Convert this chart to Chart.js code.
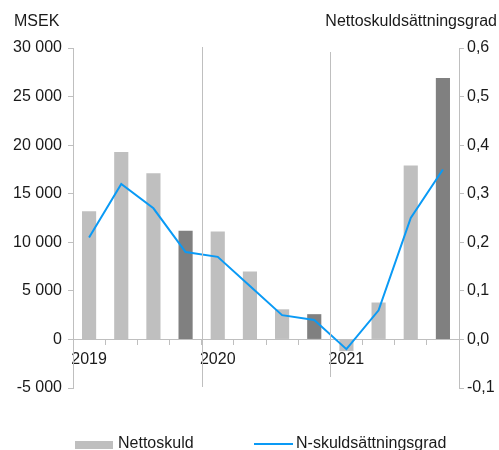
<!DOCTYPE html>
<html>
<head>
<meta charset="utf-8">
<script src="https://cdn.jsdelivr.net/npm/chart.js@4"></script>
<style>
  html, body { margin: 0; padding: 0; background: #fff; }
  #wrap { width: 499px; height: 450px; position: relative; }
</style>
</head>
<body>
<div id="wrap"><canvas id="grafico" width="499" height="450"></canvas></div>
<script>
'use strict';

// ── Dati ──────────────────────────────────────────────
const quarters = ['Q1 2019', 'Q2 2019', 'Q3 2019', 'Q4 2019',
                  'Q1 2020', 'Q2 2020', 'Q3 2020', 'Q4 2020',
                  'Q1 2021', 'Q2 2021', 'Q3 2021', 'Q4 2021'];
const yearLabels = ['2019', '2020', '2021'];
const nettoskuld = [13200, 19300, 17100, 11200, 11100, 7000, 3100, 2600, -1200, 3800, 17900, 26900];
const skuldGrad  = [0.21, 0.32, 0.27, 0.18, 0.17, 0.11, 0.05, 0.04, -0.02, 0.06, 0.25, 0.35];
const leftTitle  = 'MSEK';
const rightTitle = 'Nettoskuldsättningsgrad';

const LIGHT = '#bfbfbf';
const DARK  = '#808080';
const BLUE  = '#0a9af5';
const AXIS  = '#bfbfbf';
const TEXT  = '#1a1a1a';
const FONT  = "'Liberation Sans', Arial, sans-serif";

function fmtKr(v) {
  const s = String(Math.abs(v)).replace(/\B(?=(\d{3})+(?!\d))/g, ' ');
  return (v < 0 ? '-' : '') + s;
}
function fmtGrad(v) {
  if (Math.abs(v) < 1e-9) v = 0;
  return v.toFixed(1).replace('.', ',');
}

// titoli, separatori anno e legenda
const extras = {
  id: 'extras',
  afterDraw(chart) {
    const ctx = chart.ctx;
    const x = chart.scales.x;
    ctx.save();

    // separatori verticali tra gli anni
    ctx.strokeStyle = AXIS;
    ctx.lineWidth = 1;
    const seps = [[3, 47, 387], [7, 52, 377]];
    seps.forEach(([i, y0, y1]) => {
      const px = Math.round((x.getPixelForValue(i) + x.getPixelForValue(i + 1)) / 2) + 0.5;
      ctx.beginPath();
      ctx.moveTo(px, y0);
      ctx.lineTo(px, y1);
      ctx.stroke();
    });

    // titoli assi
    ctx.fillStyle = TEXT;
    ctx.font = '16px ' + FONT;
    ctx.textBaseline = 'middle';
    ctx.textAlign = 'left';
    ctx.fillText(leftTitle, 14, 22);
    ctx.textAlign = 'right';
    ctx.fillText(rightTitle, 497, 22);

    // legenda
    const ds = chart.data.datasets;
    const ly = 444;
    ctx.fillStyle = LIGHT;
    ctx.fillRect(75, ly - 3, 38, 8);
    ctx.fillStyle = TEXT;
    ctx.textAlign = 'left';
    ctx.fillText(ds[0].label, 118, ly);
    ctx.strokeStyle = BLUE;
    ctx.lineWidth = 2;
    ctx.beginPath();
    ctx.moveTo(254, ly);
    ctx.lineTo(293, ly);
    ctx.stroke();
    ctx.fillText(ds[1].label, 296, ly);

    ctx.restore();
  }
};

const ctx = document.getElementById('grafico').getContext('2d');
new Chart(ctx, {
  data: {
    labels: quarters,
    datasets: [
      {
        type: 'bar',
        label: 'Nettoskuld',
        data: nettoskuld,
        yAxisID: 'y',
        backgroundColor: quarters.map((q, i) => (i % 4 === 3 ? DARK : LIGHT)),
        barPercentage: 0.44,
        categoryPercentage: 1,
        order: 1
      },
      {
        type: 'line',
        label: 'N-skuldsättningsgrad',
        data: skuldGrad,
        yAxisID: 'y1',
        borderColor: BLUE,
        borderWidth: 2,
        pointRadius: 0,
        tension: 0,
        order: 0
      }
    ]
  },
  plugins: [extras],
  options: {
    responsive: false,
    animation: false,
    layout: { padding: { left: 0, right: 0, top: 48, bottom: 62 } },
    plugins: {
      legend: { display: false },
      tooltip: { enabled: false }
    },
    scales: {
      x: {
        position: { y: 0 },
        grid: { display: true, drawOnChartArea: false, color: AXIS, tickLength: 5, offset: true },
        border: { display: true, color: AXIS },
        ticks: {
          color: TEXT,
          font: { family: FONT, size: 16 },
          padding: 6,
          maxRotation: 0,
          autoSkip: false,
          callback: (v, i) => (i % 4 === 0 ? yearLabels[i / 4] : '')
        }
      },
      y: {
        position: 'left',
        min: -5000,
        max: 30000,
        grid: { drawOnChartArea: false, color: AXIS, tickLength: 5 },
        border: { color: AXIS },
        ticks: {
          stepSize: 5000,
          color: TEXT,
          padding: 6,
          font: { family: FONT, size: 16 },
          callback: v => fmtKr(v)
        },
        afterFit: s => { s.width = 73; }
      },
      y1: {
        position: 'right',
        min: -0.1,
        max: 0.6,
        grid: { drawOnChartArea: false, color: AXIS, tickLength: 5 },
        border: { color: AXIS },
        ticks: {
          stepSize: 0.1,
          color: TEXT,
          padding: 3,
          font: { family: FONT, size: 16 },
          callback: v => fmtGrad(v)
        },
        afterFit: s => { s.width = 40; }
      }
    }
  }
});
</script>
</body>
</html>
